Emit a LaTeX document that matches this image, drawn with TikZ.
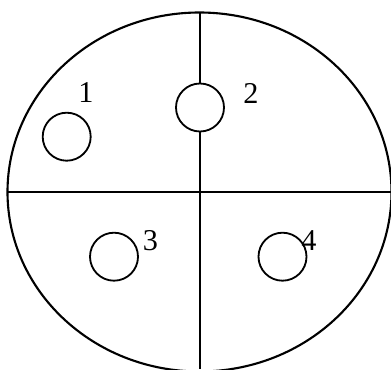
\documentclass[tikz,border=0pt]{standalone}
\usepackage{fontspec}
\setmainfont{Liberation Serif}
\usepackage{tikz}
\tikzset{
  holenode/.style={circle, draw=black, line width=1.3pt, fill=none,
    minimum size=12mm, inner sep=0pt},
  labelnode/.style={inner sep=0pt, font=\fontsize{21.5}{23}\selectfont},
  rimedge/.style={draw=black, line width=1.5pt},
  divideedge/.style={draw=black, line width=1.5pt},
}
\begin{document}
\begin{tikzpicture}[x=0.25mm, y=-0.25mm]
  \useasboundingbox (0,0) rectangle (391,369);
  \coordinate (c) at (199.5,192);
  \coordinate (top) at (200,12.5);
  \coordinate (bot) at (200,369);
  \coordinate (left) at (7.5,192);
  \coordinate (right) at (391,192);
  \draw[rimedge] (c) ellipse [x radius=192, y radius=179.5];
  \draw[divideedge] (top) -- (bot);
  \draw[divideedge] (left) -- (right);
  \node[holenode, fill=white] (h1) at (66.7,136.7) {};
  \node[holenode, fill=white] (h2) at (200,107.5) {};
  \node[holenode] (h3) at (114,256.7) {};
  \node[holenode] (h4) at (282.5,256.7) {};
  \node[labelnode] (l1) at (86,93) {1};
  \node[labelnode] (l2) at (251,93) {2};
  \node[labelnode] (l3) at (150.5,241) {3};
  \node[labelnode] (l4) at (309,241) {4};
\end{tikzpicture}
\end{document}
